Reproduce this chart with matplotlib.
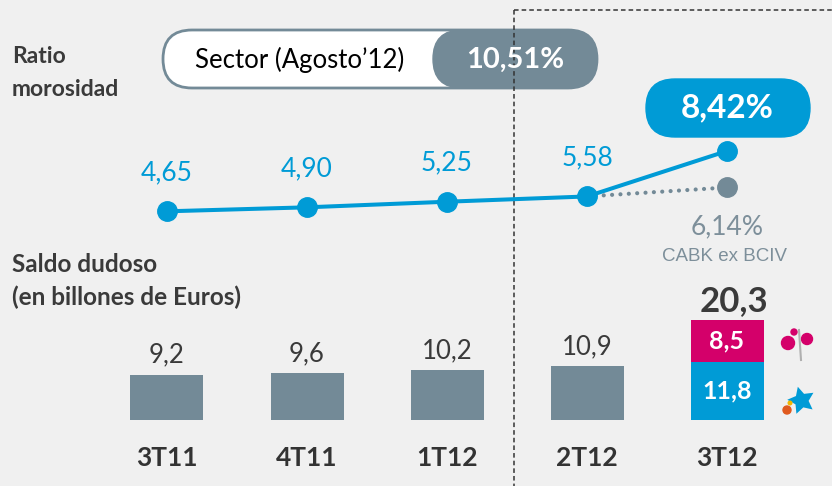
import matplotlib.pyplot as plt
from matplotlib.patches import FancyBboxPatch, Circle

# datos
trimestres = ['3T11', '4T11', '1T12', '2T12', '3T12']
ratio_morosidad = [4.65, 4.90, 5.25, 5.58, 8.42]
ratio_ex_bciv = 6.14
ratio_sector = 10.51
saldo_dudoso = [9.2, 9.6, 10.2, 10.9]
saldo_caixa = 11.8
saldo_bciv = 8.5

W, H = 832, 486
fondo = '#f0f0f0'
azul = '#009bd6'
gris = '#738a97'
rosa = '#d4006a'
oscuro = '#3a3a3a'
fuente = ['Lato', 'DejaVu Sans']

plt.rcParams['font.family'] = fuente


def coma(v, dec):
    return f"{v:.{dec}f}".replace('.', ',')


def caja(left, top, right, bottom):
    return [left / W, 1 - bottom / H, (right - left) / W, (bottom - top) / H]


fig = plt.figure(figsize=(W / 100, H / 100), dpi=100, facecolor=fondo)

# capa de fondo en pixeles (cajas, lineas discontinuas, iconos)
ax_bg = fig.add_axes([0, 0, 1, 1], zorder=0)
ax_bg.set_xlim(0, W)
ax_bg.set_ylim(H, 0)
ax_bg.axis('off')

ax_bg.plot([514, 514], [10, H], color='#333333', lw=1.1, ls=(0, (3, 2)))
ax_bg.plot([514, W], [10, 10], color='#333333', lw=1.1, ls=(0, (3, 2)))

ax_bg.add_patch(FancyBboxPatch((163, 30), 434, 58, boxstyle='round,pad=0,rounding_size=29',
                               fc='white', ec=gris, lw=2))
ax_bg.add_patch(FancyBboxPatch((433, 30), 164, 58, boxstyle='round,pad=0,rounding_size=29',
                               fc=gris, ec=gris, lw=1))
ax_bg.text(300, 60, 'Sector (Agosto’12)', ha='center', va='center', fontsize=18.5, color='black')
ax_bg.text(515, 60, coma(ratio_sector, 2) + '%', ha='center', va='center', fontsize=21,
           fontweight='bold', color='white')

ax_bg.add_patch(FancyBboxPatch((646, 79), 164, 58, boxstyle='round,pad=0,rounding_size=29',
                               fc=azul, ec=azul, lw=1))

ax_bg.text(12, 63, 'Ratio', fontsize=16.5, fontweight='bold', color=oscuro, va='baseline')
ax_bg.text(12, 96, 'morosidad', fontsize=16.5, fontweight='bold', color=oscuro, va='baseline')
ax_bg.text(12, 272, 'Saldo dudoso', fontsize=17.5, fontweight='bold', color=oscuro, va='baseline')
ax_bg.text(12, 305, '(en billones de Euros)', fontsize=17.5, fontweight='bold', color=oscuro,
           va='baseline')

# iconos
ax_bg.plot([799, 801], [330, 360], color='#b0b0b0', lw=1.5)
ax_bg.add_patch(Circle((788, 343), 6.5, color=rosa))
ax_bg.add_patch(Circle((807, 339), 5.5, color=rosa))
ax_bg.add_patch(Circle((794, 332), 3, color=rosa))
ax_bg.scatter([801], [400], marker=(5, 1, 15), s=420, color=azul, linewidths=0)
ax_bg.add_patch(Circle((787, 410), 4, color='#e05a1e'))
ax_bg.add_patch(Circle((790, 403), 1.8, color='#f2b600'))

xlim = (-167 / 140, (W - 167) / 140)
xs = list(range(len(trimestres)))

# linea de ratio de morosidad
ax_line = fig.add_axes(caja(0, 120, W, 240), zorder=2)
ax_line.set_facecolor('none')
ax_line.set_xlim(xlim)
ax_line.set_ylim(8.42 - (240 - 151) / 16, 8.42 + (151 - 120) / 16)
ax_line.axis('off')

ax_line.plot([xs[3], xs[4]], [ratio_morosidad[3], ratio_ex_bciv], color=gris, lw=3,
             ls=(0, (0.01, 2.0)), dash_capstyle='round', zorder=1)
ax_line.plot([xs[4]], [ratio_ex_bciv], marker='o', ms=14, color=gris, zorder=1)
ax_line.plot(xs, ratio_morosidad, color=azul, lw=2.9, marker='o', ms=14, zorder=3)

for x, v in zip(xs[:4], ratio_morosidad[:4]):
    ax_line.annotate(coma(v, 2), (x, v), xytext=(0, 28), textcoords='offset points',
                     ha='center', va='center', fontsize=19, color=azul, annotation_clip=False)
ax_line.annotate(coma(ratio_morosidad[4], 2) + '%', (xs[4], ratio_morosidad[4]), xytext=(0, 31),
                 textcoords='offset points', ha='center', va='center', fontsize=24,
                 fontweight='bold', color='white', annotation_clip=False)
ax_line.annotate(coma(ratio_ex_bciv, 2) + '%', (xs[4], ratio_ex_bciv), xytext=(0, -28),
                 textcoords='offset points', ha='center', va='center', fontsize=19,
                 color='#7d8f9a', annotation_clip=False)
ax_line.annotate('CABK ex BCIV', (xs[4], ratio_ex_bciv), xytext=(-2, -50),
                 textcoords='offset points', ha='center', va='center', fontsize=13.5,
                 color='#7d8f9a', family=['Liberation Sans', 'DejaVu Sans'], annotation_clip=False)

# barras de saldo dudoso
ax_bar = fig.add_axes(caja(0, 300, W, 420), zorder=2)
ax_bar.set_facecolor('none')
ax_bar.set_xlim(xlim)
ax_bar.set_ylim(0, 120 / 4.92)
ax_bar.axis('off')

ancho = 73 / 140
ax_bar.bar(xs[:4], saldo_dudoso, width=ancho, color=gris)
ax_bar.bar(xs[4], saldo_caixa, width=ancho, color=azul)
ax_bar.bar(xs[4], saldo_bciv, bottom=saldo_caixa, width=ancho, color=rosa)

for x, v in zip(xs[:4], saldo_dudoso):
    ax_bar.annotate(coma(v, 1), (x, v), xytext=(0, 14), textcoords='offset points',
                    ha='center', va='center', fontsize=18.5, color=oscuro, annotation_clip=False)
total = saldo_caixa + saldo_bciv
ax_bar.annotate(coma(total, 1), (xs[4], total), xytext=(5, 14), textcoords='offset points',
                ha='center', va='center', fontsize=25, fontweight='bold', color=oscuro,
                annotation_clip=False)
ax_bar.text(xs[4], saldo_caixa / 2, coma(saldo_caixa, 1), ha='center', va='center',
            fontsize=18, fontweight='bold', color='white')
ax_bar.text(xs[4], saldo_caixa + saldo_bciv / 2, coma(saldo_bciv, 1), ha='center', va='center',
            fontsize=18, fontweight='bold', color='white')

for x, t in zip(xs, trimestres):
    ax_bar.annotate(t, (x, 0), xytext=(0, -27), textcoords='offset points', ha='center',
                    va='center', fontsize=19, fontweight='bold', color='#333333',
                    annotation_clip=False)

fig.savefig('out.png', dpi=100, facecolor=fondo)
